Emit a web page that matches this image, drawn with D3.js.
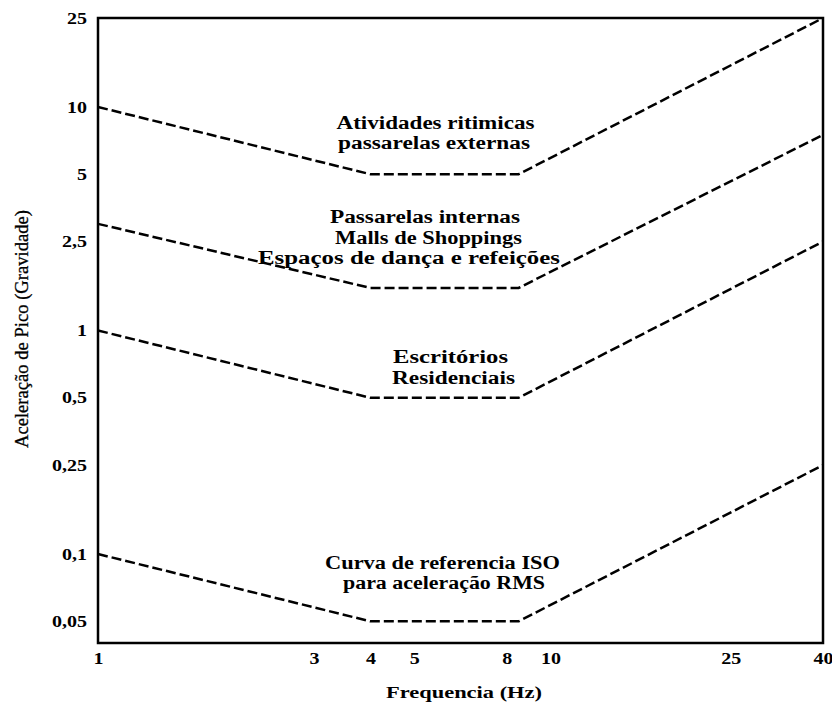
<!DOCTYPE html>
<html>
<head>
<meta charset="utf-8">
<script src="https://cdn.jsdelivr.net/npm/d3@7"></script>
<style>
  html, body { margin: 0; padding: 0; background: #fff; }
</style>
</head>
<body>
<svg id="chart" width="832" height="702"></svg>
<script>
// Break frequencies (Hz) shared by every limit curve
const frequencies = [1, 4, 8.5, 40];

// Peak acceleration limits (% g) at each break frequency
const rhythmicValues = [10, 5, 5, 25];
const indoorValues   = [3, 1.55, 1.55, 7.5];
const officeValues   = [1, 0.5, 0.5, 2.5];
const isoValues      = [0.1, 0.05, 0.05, 0.25];

// Axis ticks
const xTickValues = [1, 3, 4, 5, 8, 10, 25, 40];
const yTickValues = [25, 10, 5, 2.5, 1, 0.5, 0.25, 0.1, 0.05];

// Curve captions
const rhythmicLabel = ["Atividades ritimicas", "passarelas externas"];
const indoorLabel   = ["Passarelas internas", "Malls de Shoppings", "Espaços de dança e refeições"];
const officeLabel   = ["Escritórios", "Residenciais"];
const isoLabel      = ["Curva de referencia ISO", "para aceleração RMS"];

const xTitle = "Frequencia (Hz)";
const yTitle = "Aceleração de Pico (Gravidade)";

const FONT = "'Liberation Serif', 'Times New Roman', Times, serif";
const TEXT_STRETCH = 1.25;   // wide, stretched lettering

const svg = d3.select("#chart");
const plotLeft = 98, plotRight = 823, plotTop = 18, plotBottom = 643;

const x = d3.scaleLog().domain([1, 40]).range([plotLeft, plotRight]);
const y = d3.scaleLog().domain([0.04, 25]).range([plotBottom, plotTop]);

const ptBr = d3.formatLocale({ decimal: ",", thousands: ".", grouping: [3], currency: ["R$", ""] });
const fmt = ptBr.format("~g");

// Widen text horizontally by a factor, keeping its anchor
function stretch(sel, factor) {
  sel.each(function () {
    const w = this.getComputedTextLength();
    d3.select(this).attr("textLength", w * factor).attr("lengthAdjust", "spacingAndGlyphs");
  });
}

// Limit curves
const line = d3.line().x(d => x(d[0])).y(d => y(d[1]));
const series = [rhythmicValues, indoorValues, officeValues, isoValues];
svg.append("g")
  .selectAll("path")
  .data(series)
  .join("path")
  .attr("d", vals => line(frequencies.map((f, i) => [f, vals[i]])))
  .attr("fill", "none")
  .attr("stroke", "#000")
  .attr("stroke-width", 2.5)
  .attr("stroke-dasharray", "10,4");

// Plot frame
svg.append("rect")
  .attr("x", plotLeft).attr("y", plotTop)
  .attr("width", plotRight - plotLeft).attr("height", plotBottom - plotTop)
  .attr("fill", "none").attr("stroke", "#000").attr("stroke-width", 2.5);

// Axes (labels only, no tick marks)
const yAxis = svg.append("g")
  .attr("transform", `translate(${plotLeft},0)`)
  .call(d3.axisLeft(y).tickValues(yTickValues).tickFormat(fmt).tickSize(0).tickPadding(11));
const xAxis = svg.append("g")
  .attr("transform", `translate(0,${plotBottom})`)
  .call(d3.axisBottom(x).tickValues(xTickValues).tickFormat(fmt).tickSize(0).tickPadding(10));
[xAxis, yAxis].forEach(g => {
  g.select(".domain").remove();
  g.attr("font-family", null).attr("font-size", null);
  const t = g.selectAll("text")
    .style("font-family", FONT)
    .style("font-size", "16px")
    .style("font-weight", "bold")
    .attr("fill", "#000");
  stretch(t, TEXT_STRETCH);
});

// Axis titles
svg.append("text")
  .attr("x", 464).attr("y", 698)
  .attr("text-anchor", "middle")
  .style("font-family", FONT).style("font-size", "17px").style("font-weight", "bold")
  .text(xTitle)
  .attr("textLength", 156).attr("lengthAdjust", "spacingAndGlyphs");

svg.append("text")
  .attr("transform", "translate(28,329) rotate(-90)")
  .attr("text-anchor", "middle")
  .style("font-family", FONT).style("font-size", "19px")
  .attr("stroke", "#000").attr("stroke-width", 0.3)
  .text(yTitle)
  .attr("textLength", 238).attr("lengthAdjust", "spacingAndGlyphs");

// Captions: one text element per line, each fitted to its width
function caption(lines, centers, widths, firstY, step) {
  lines.forEach((s, i) => {
    svg.append("text")
      .attr("x", centers[i]).attr("y", firstY + i * step)
      .attr("text-anchor", "middle")
      .style("font-family", FONT).style("font-size", "18px").style("font-weight", "bold")
      .text(s)
      .attr("textLength", widths[i]).attr("lengthAdjust", "spacingAndGlyphs");
  });
}
caption(rhythmicLabel, [435.5, 434], [198, 192], 129, 20);
caption(indoorLabel, [425, 428.5, 409], [190, 187, 302], 223, 20.5);
caption(officeLabel, [450.5, 453.5], [115, 123], 363, 20.5);
caption(isoLabel, [442.5, 444], [235, 202], 569, 19.5);
</script>
</body>
</html>
